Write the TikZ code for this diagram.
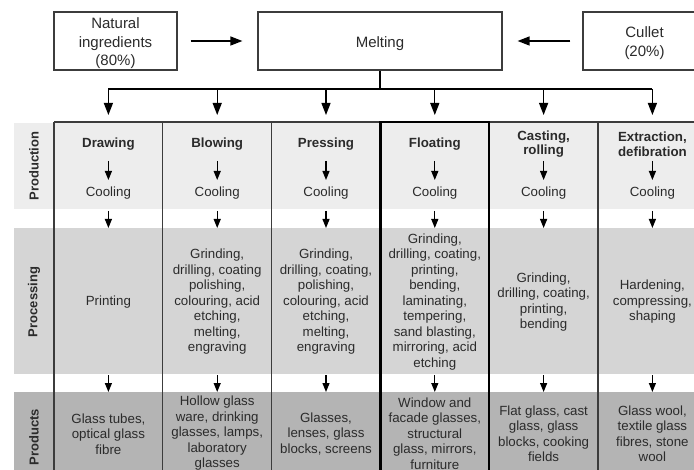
\documentclass[tikz,border=0pt]{standalone}
\usepackage{fontspec}
\setmainfont{Liberation Sans}
\usetikzlibrary{arrows.meta}
\definecolor{bandA}{HTML}{EDEDED}
\definecolor{bandB}{HTML}{D5D5D5}
\definecolor{bandC}{HTML}{B4B4B4}
\definecolor{ink}{HTML}{2B2B2B}
\definecolor{rulec}{HTML}{3C3C3C}
\newcommand{\topstrut}{\rule{0pt}{15.5bp}}
\begin{document}
\begin{tikzpicture}[x=1bp,y=-1bp,
  txt/.style={text=ink, align=center, inner sep=0pt, font=\fontsize{13.3bp}{15.5bp}\selectfont},
  hdr/.style={text=ink, align=center, inner sep=0pt, font=\fontsize{13.3bp}{14.5bp}\selectfont\bfseries},
  topbox/.style={draw=rulec, line width=1.2bp, text=ink, align=center, inner sep=0pt, minimum height=58bp, font=\fontsize{15bp}{18.5bp}\selectfont},
  bigarr/.style={draw=black, line width=1.3bp, -{Triangle[length=12bp,width=9bp]}},
  smallarr/.style={draw=black, line width=1.2bp, -{Triangle[length=9bp,width=7bp]}},
  rowlab/.style={text=ink, rotate=90, inner sep=0pt, font=\fontsize{13bp}{15bp}\selectfont\bfseries},
  colline/.style={draw=rulec, line width=1.2bp},
]
\useasboundingbox (0,0) rectangle (694,470);
\clip (0,0) rectangle (694,470);
\fill[white] (0,0) rectangle (694,470);

% top boxes
\node[topbox, minimum width=123bp] (nat) at (115.5,41) {\topstrut Natural\\ingredients\\(80\%)};
\node[topbox, minimum width=244bp] (melt) at (380,41) {\topstrut Melting};
\node[topbox, minimum width=123bp] (cul) at (644.5,41) {\topstrut Cullet\\(20\%)};
\draw[bigarr, shorten <=13bp, shorten >=15bp] (nat) -- (melt);
\draw[bigarr, shorten <=12bp, shorten >=15bp] (cul) -- (melt);

% bands
\fill[bandA] (14,123) rectangle (706,209);
\fill[bandB] (14,228) rectangle (706,374);
\fill[bandC] (14,392) rectangle (706,480);

% distribution
\coordinate (split) at (380,89);
\draw[line width=1.3bp] (melt) -- (split);
\foreach \i/\x in {1/108.4,2/217.2,3/326,4/434.8,5/543.6,6/652.4}{
  \coordinate (t\i) at (\x,89);
  \coordinate (u\i) at (\x,115);
  \draw[bigarr] (t\i) -- (u\i);
  \coordinate (pa\i) at (\x,161);
  \coordinate (pb\i) at (\x,180);
  \draw[smallarr] (pa\i) -- (pb\i);
  \coordinate (ga\i) at (\x,211);
  \coordinate (gb\i) at (\x,228);
  \draw[smallarr] (ga\i) -- (gb\i);
  \coordinate (ka\i) at (\x,375);
  \coordinate (kb\i) at (\x,392);
  \draw[smallarr] (ka\i) -- (kb\i);
  \node[txt] (c\i) at (\x,193) {Cooling};
}
\draw[line width=1.3bp] (t1) -- (t6);

% grid
\draw[colline] (54,122) -- (706,122);
\foreach \x in {54,162.8,271.6,489.2,598}{
  \draw[colline] (\x,122) -- (\x,480);
}
\draw[black, line width=2.2bp] (380.4,122) rectangle (489.2,480);

% row labels
\node[rowlab] (lprod) at (34,166) {Production};
\node[rowlab] (lproc) at (34,302) {Processing};
\node[rowlab] (lprd) at (34,437) {Products};

% headers
\node[hdr] (h1) at (108.4,144) {Drawing};
\node[hdr] (h2) at (217.2,144) {Blowing};
\node[hdr] (h3) at (326,144) {Pressing};
\node[hdr] (h4) at (434.8,144) {Floating};
\node[hdr] (h5) at (543.6,144) {Casting,\\rolling};
\node[hdr] (h6) at (652.4,144) {Extraction,\\defibration};

% processing
\node[txt] (p1) at (108.4,302) {Printing};
\node[txt] (p2) at (217.2,302) {Grinding,\\drilling, coating\\polishing,\\colouring, acid\\etching,\\melting,\\engraving};
\node[txt] (p3) at (326,302) {Grinding,\\drilling, coating,\\polishing,\\colouring, acid\\etching,\\melting,\\engraving};
\node[txt] (p4) at (434.8,302) {Grinding,\\drilling, coating,\\printing,\\bending,\\laminating,\\tempering,\\sand blasting,\\mirroring, acid\\etching};
\node[txt] (p5) at (543.6,302) {Grinding,\\drilling, coating,\\printing,\\bending};
\node[txt] (p6) at (652.4,302) {Hardening,\\compressing,\\shaping};

% products
\node[txt] (r1) at (108.4,434) {Glass tubes,\\optical glass\\fibre};
\node[txt] (r2) at (217.2,433.5) {Hollow glass\\ware, drinking\\glasses, lamps,\\laboratory\\glasses};
\node[txt] (r3) at (326,434) {Glasses,\\lenses, glass\\blocks, screens};
\node[txt] (r4) at (434.8,433.5) {Window and\\facade glasses,\\structural\\glass, mirrors,\\furniture};
\node[txt] (r5) at (543.6,433.5) {Flat glass, cast\\glass, glass\\blocks, cooking\\fields};
\node[txt] (r6) at (652.4,433.5) {Glass wool,\\textile glass\\fibres, stone\\wool};
\end{tikzpicture}
\end{document}
